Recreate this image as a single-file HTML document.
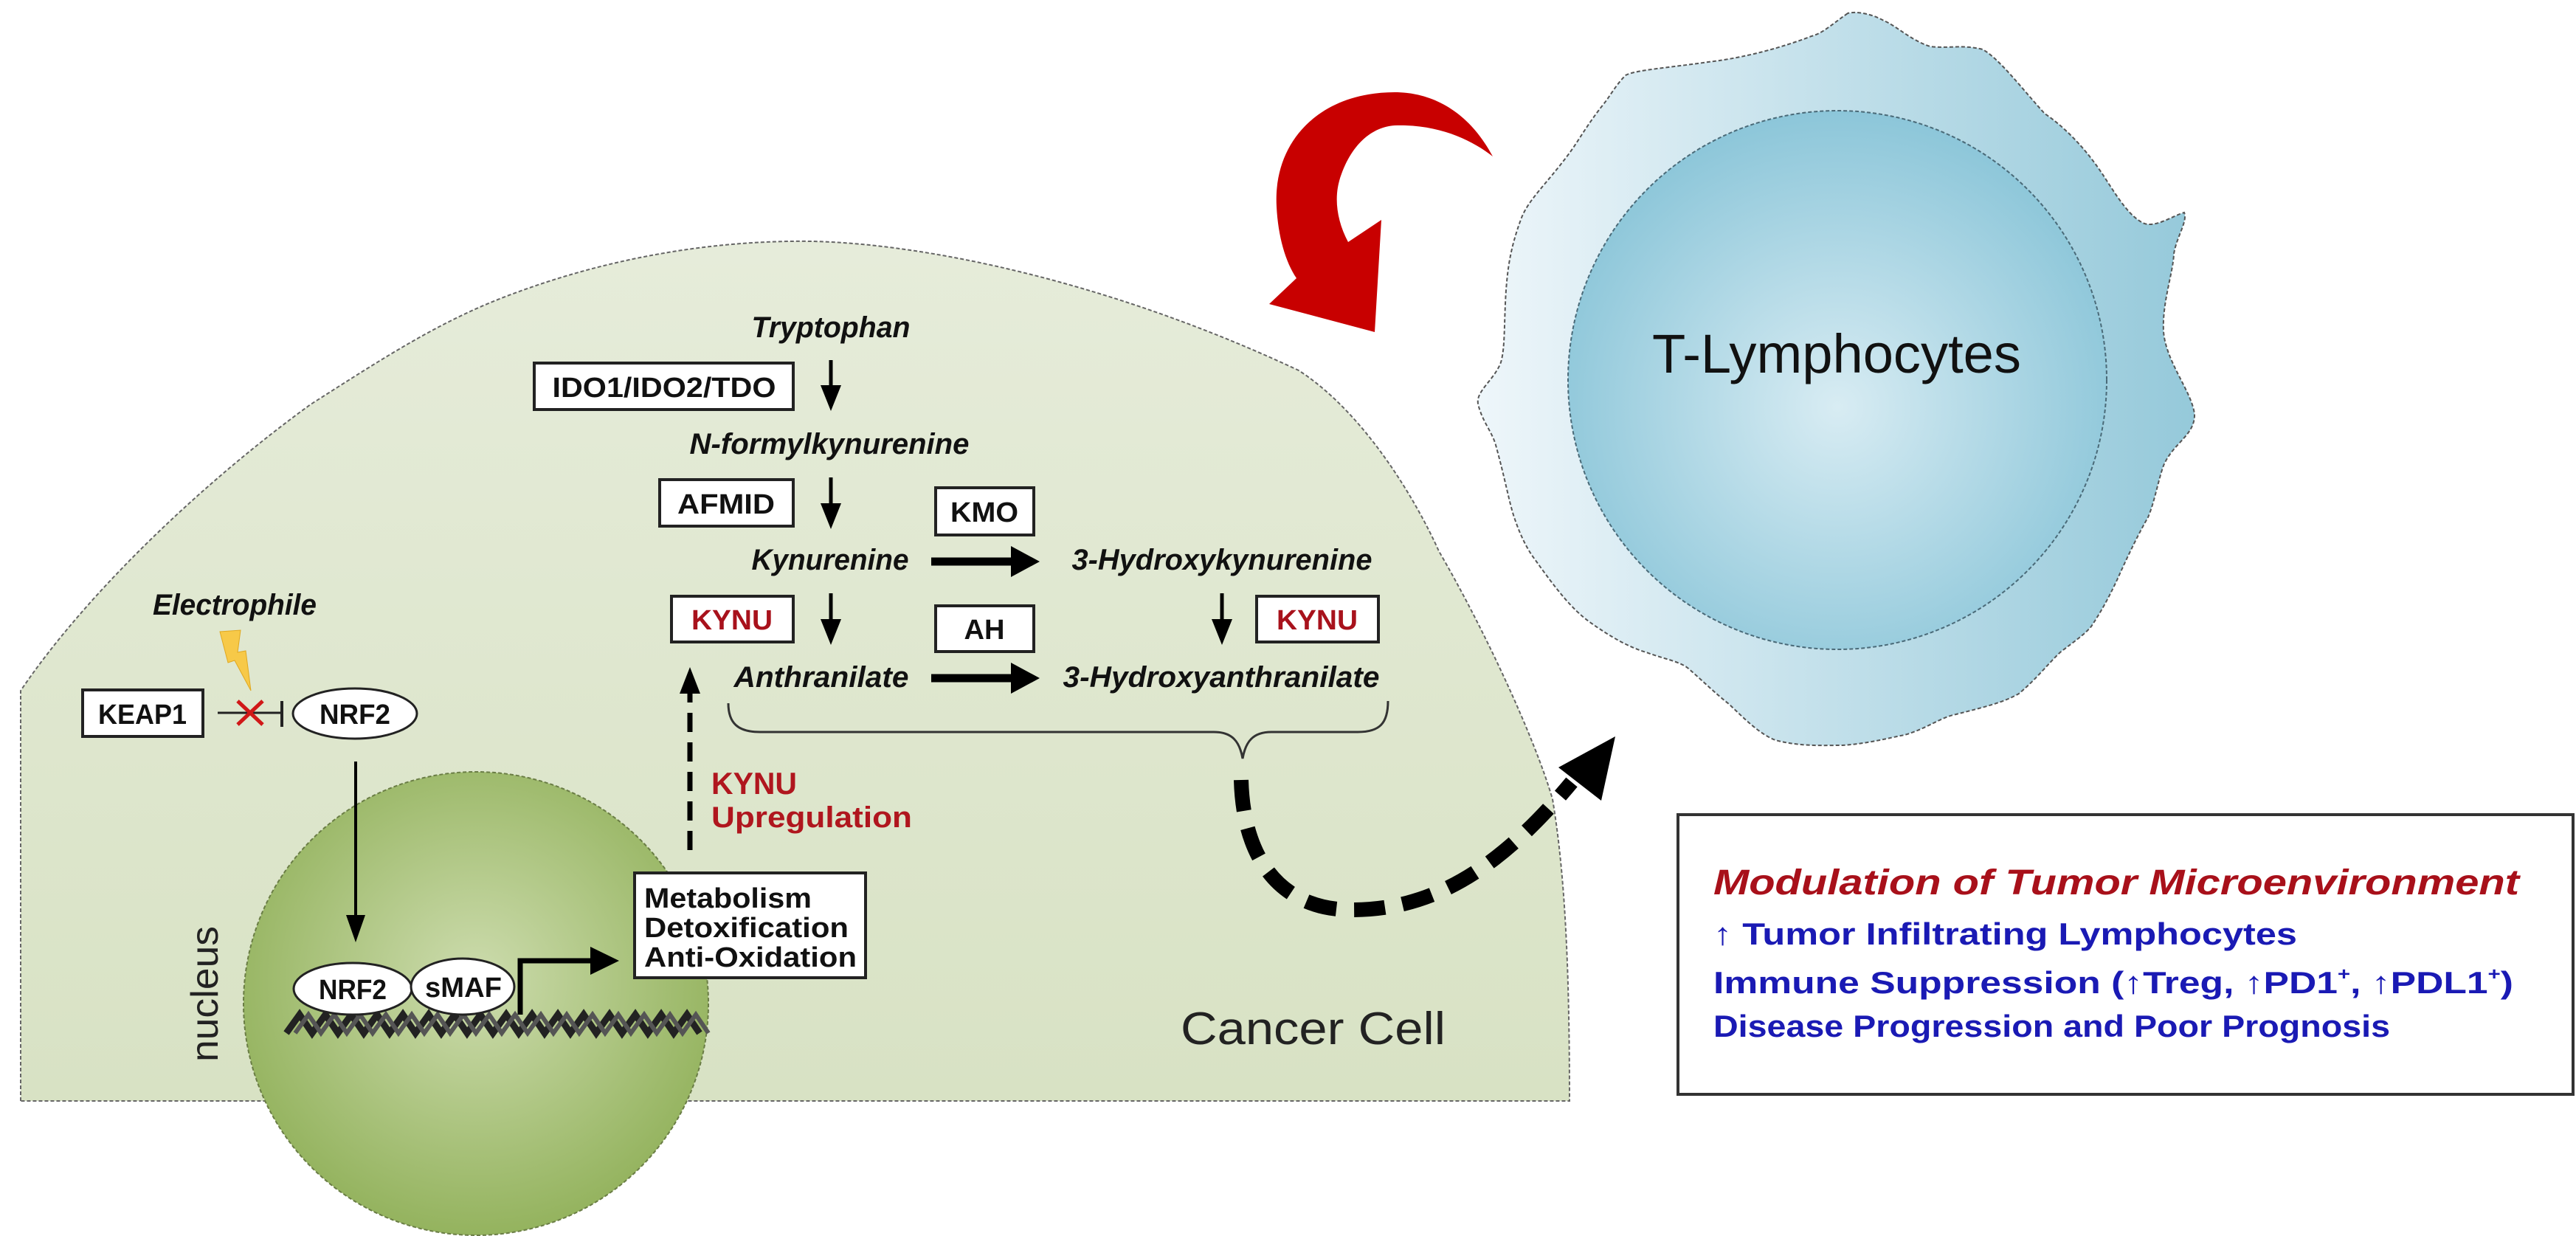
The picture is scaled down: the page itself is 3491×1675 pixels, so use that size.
<!DOCTYPE html>
<html><head><meta charset="utf-8"><style>
html,body{margin:0;padding:0;background:#fff;}
svg{display:block;}
text{font-family:"Liberation Sans",sans-serif;}
.bi{font-weight:bold;font-style:italic;fill:#111;font-size:40px;}
.bx{font-weight:bold;fill:#111;font-size:38px;}
.box{fill:#fff;stroke:#222;stroke-width:4;}
</style></head><body>
<svg width="3491" height="1675" viewBox="0 0 3491 1675" xmlns="http://www.w3.org/2000/svg">
<defs>
<linearGradient id="cellg" x1="0" y1="0" x2="0" y2="1">
<stop offset="0" stop-color="#e6ecda"/><stop offset="1" stop-color="#d8e2c4"/></linearGradient>
<radialGradient id="nucg" cx="0.5" cy="0.45" r="0.55">
<stop offset="0" stop-color="#cddcae"/><stop offset="1" stop-color="#94b35e"/></radialGradient>
<linearGradient id="tout" x1="0" y1="0" x2="1" y2="0">
<stop offset="0" stop-color="#eef6fa"/><stop offset="1" stop-color="#95c9da"/></linearGradient>
<radialGradient id="tin" cx="0.5" cy="0.55" r="0.55">
<stop offset="0" stop-color="#d8ecf3"/><stop offset="1" stop-color="#8cc6d9"/></radialGradient>
</defs>

<path d="M28,1492 L28,936 C120,800 280,650 421,548 C520,485 600,432 701,396 C820,352 960,325 1100,327 C1250,330 1500,380 1760,502 C1850,560 1920,680 1950,747 C2010,850 2080,1000 2104,1083 C2120,1180 2127,1300 2127,1492 Z" fill="url(#cellg)" stroke="#666" stroke-width="2" stroke-dasharray="5 3"/>

<ellipse cx="645" cy="1360" rx="315" ry="314" fill="url(#nucg)" stroke="#6a7d45" stroke-width="2" stroke-dasharray="5 3"/>
<text x="0" y="0" font-size="52" fill="#222" transform="translate(295,1347) rotate(-90)" text-anchor="middle" textLength="184" lengthAdjust="spacingAndGlyphs">nucleus</text>

<path d="M2504,18 C2480,35 2470,45 2455,49 C2400,70 2350,80 2315,84 C2260,92 2215,95 2203,102 C2190,115 2182,130 2174,140 C2150,170 2140,190 2125,210 C2095,250 2072,270 2062,295 C2045,340 2043,370 2041,393 C2038,440 2040,470 2034,491 C2025,515 2000,530 2003,547 C2008,570 2022,585 2027,603 C2040,650 2045,680 2052,701 C2060,725 2070,745 2080,758 C2110,800 2130,825 2153,842 C2185,865 2210,878 2231,884 C2255,893 2275,896 2287,905 C2310,925 2325,940 2343,954 C2365,975 2385,995 2406,1003 C2440,1012 2470,1010 2497,1010 C2530,1008 2560,1000 2581,996 C2610,988 2630,972 2651,968 C2690,958 2715,952 2736,940 C2760,920 2775,900 2792,884 C2810,870 2825,860 2834,849 C2850,825 2860,805 2869,786 C2885,750 2900,720 2911,701 C2920,680 2925,650 2932,631 C2945,600 2975,590 2974,561 C2970,530 2935,490 2932,449 C2930,410 2945,370 2946,344 C2950,320 2965,300 2960,288 C2945,292 2920,310 2904,302 C2880,290 2860,250 2841,224 C2820,195 2795,170 2771,154 C2740,120 2710,80 2687,67 C2660,60 2640,66 2616,63 C2590,55 2570,35 2553,28 C2535,18 2515,15 2504,18 Z" fill="url(#tout)" stroke="#555" stroke-width="2" stroke-dasharray="5 3"/>
<circle cx="2490" cy="515" r="365" fill="url(#tin)" stroke="#4a6a78" stroke-width="2" stroke-dasharray="5 3"/>
<text x="2489" y="505" font-size="74" fill="#111" text-anchor="middle" textLength="500" lengthAdjust="spacingAndGlyphs">T-Lymphocytes</text>

<path d="M2023,212 C1990,150 1940,125 1890,125 C1790,125 1725,190 1730,280 C1732,320 1742,355 1757,377 L1720,412 L1863,450 L1872,298 L1827,328 C1812,300 1808,270 1815,245 C1830,195 1860,172 1890,170 C1950,168 1995,190 2023,212 Z" fill="#c80000"/>

<text class="bi" x="1126" y="457" text-anchor="middle" textLength="215" lengthAdjust="spacingAndGlyphs">Tryptophan</text>
<rect class="box" x="724" y="492" width="351" height="63"/>
<text class="bx" x="900" y="538" text-anchor="middle" textLength="303" lengthAdjust="spacingAndGlyphs">IDO1/IDO2/TDO</text>
<line x1="1126" y1="488" x2="1126" y2="525" stroke="#000" stroke-width="5"/>
<polygon points="1112,522 1140,522 1126,557" fill="#000"/>

<text class="bi" x="1124" y="615" text-anchor="middle" textLength="379" lengthAdjust="spacingAndGlyphs">N-formylkynurenine</text>
<rect class="box" x="894" y="650" width="181" height="63"/>
<text class="bx" x="984" y="696" text-anchor="middle" textLength="132" lengthAdjust="spacingAndGlyphs">AFMID</text>
<line x1="1126" y1="647" x2="1126" y2="685" stroke="#000" stroke-width="5"/>
<polygon points="1112,682 1140,682 1126,717" fill="#000"/>

<rect class="box" x="1268" y="661" width="133" height="64"/>
<text class="bx" x="1334" y="707" text-anchor="middle" textLength="92" lengthAdjust="spacingAndGlyphs">KMO</text>

<text class="bi" x="1125" y="772" text-anchor="middle" textLength="213" lengthAdjust="spacingAndGlyphs">Kynurenine</text>
<line x1="1262" y1="761" x2="1375" y2="761" stroke="#000" stroke-width="11"/>
<polygon points="1370,740 1370,782 1409,761" fill="#000"/>
<text class="bi" x="1656" y="772" text-anchor="middle" textLength="407" lengthAdjust="spacingAndGlyphs">3-Hydroxykynurenine</text>

<rect class="box" x="910" y="808" width="165" height="62"/>
<text class="bx" x="992" y="853" text-anchor="middle" style="fill:#a8121c" textLength="110" lengthAdjust="spacingAndGlyphs">KYNU</text>
<line x1="1126" y1="804" x2="1126" y2="842" stroke="#000" stroke-width="5"/>
<polygon points="1112,839 1140,839 1126,874" fill="#000"/>

<rect class="box" x="1268" y="821" width="133" height="62"/>
<text class="bx" x="1334" y="866" text-anchor="middle" textLength="55" lengthAdjust="spacingAndGlyphs">AH</text>

<line x1="1656" y1="804" x2="1656" y2="842" stroke="#000" stroke-width="5"/>
<polygon points="1642,839 1670,839 1656,874" fill="#000"/>
<rect class="box" x="1703" y="808" width="165" height="62"/>
<text class="bx" x="1785" y="853" text-anchor="middle" style="fill:#a8121c" textLength="110" lengthAdjust="spacingAndGlyphs">KYNU</text>

<text class="bi" x="1113" y="931" text-anchor="middle" textLength="237" lengthAdjust="spacingAndGlyphs">Anthranilate</text>
<line x1="1262" y1="919" x2="1375" y2="919" stroke="#000" stroke-width="11"/>
<polygon points="1370,898 1370,940 1409,919" fill="#000"/>
<text class="bi" x="1655" y="931" text-anchor="middle" textLength="429" lengthAdjust="spacingAndGlyphs">3-Hydroxyanthranilate</text>

<path d="M987,953 C987,980 1000,992 1030,992 L1645,992 C1670,992 1680,1005 1684,1028 C1688,1005 1698,992 1723,992 L1840,992 C1870,992 1881,980 1881,950" fill="none" stroke="#333" stroke-width="3"/>

<path d="M1682,1057 C1685,1170 1740,1233 1832,1233 C1940,1233 2030,1180 2130,1060" fill="none" stroke="#000" stroke-width="20" stroke-dasharray="42 24"/>
<polygon points="2189,998 2170,1085 2112,1040" fill="#000"/>

<text x="1600" y="1415" font-size="62" fill="#222" textLength="359" lengthAdjust="spacingAndGlyphs">Cancer Cell</text>

<line x1="935" y1="1152" x2="935" y2="935" stroke="#000" stroke-width="7" stroke-dasharray="26 14"/>
<polygon points="921,940 949,940 935,904" fill="#000"/>
<text x="964" y="1076" font-size="42" font-weight="bold" fill="#b0161e" textLength="116" lengthAdjust="spacingAndGlyphs">KYNU</text>
<text x="964" y="1121" font-size="40" font-weight="bold" fill="#b0161e" textLength="272" lengthAdjust="spacingAndGlyphs">Upregulation</text>

<text class="bi" x="207" y="833" textLength="222" lengthAdjust="spacingAndGlyphs">Electrophile</text>
<polygon points="298,856 326,854 322,884 333,882 340,936 318,895 309,898" fill="#f7c948" stroke="#e0a820" stroke-width="1"/>
<rect class="box" x="112" y="935" width="163" height="63"/>
<text class="bx" x="193" y="981" text-anchor="middle" textLength="120" lengthAdjust="spacingAndGlyphs">KEAP1</text>
<line x1="295" y1="966" x2="382" y2="966" stroke="#222" stroke-width="3"/>
<line x1="382" y1="950" x2="382" y2="985" stroke="#222" stroke-width="4"/>
<path d="M322,950 L356,982 M356,950 L322,982" stroke="#d01818" stroke-width="5"/>
<ellipse cx="481" cy="967" rx="84" ry="34" fill="#fff" stroke="#222" stroke-width="3"/>
<text class="bx" x="481" y="981" text-anchor="middle" textLength="96" lengthAdjust="spacingAndGlyphs">NRF2</text>
<line x1="482" y1="1032" x2="482" y2="1245" stroke="#000" stroke-width="4"/>
<polygon points="469,1240 495,1240 482,1277" fill="#000"/>

<path d="M388,1400 l18,-25 l17,25 l18,-25 l17,25 l18,-25 l17,25 l18,-25 l17,25 l18,-25 l17,25 l18,-25 l17,25 l18,-25 l17,25 l18,-25 l17,25 l18,-25 l17,25 l18,-25 l17,25 l18,-25 l17,25 l18,-25 l17,25 l18,-25 l17,25 l18,-25 l17,25 l18,-25 l17,25 l18,-25 l17,25" fill="none" stroke="#222" stroke-width="9"/>
<path d="M400,1400 l18,-25 l17,25 l18,-25 l17,25 l18,-25 l17,25 l18,-25 l17,25 l18,-25 l17,25 l18,-25 l17,25 l18,-25 l17,25 l18,-25 l17,25 l18,-25 l17,25 l18,-25 l17,25 l18,-25 l17,25 l18,-25 l17,25 l18,-25 l17,25 l18,-25 l17,25 l18,-25 l17,25 l18,-25 l17,25" fill="none" stroke="#555" stroke-width="6"/>

<ellipse cx="478" cy="1340" rx="80" ry="35" fill="#fff" stroke="#222" stroke-width="3"/>
<text class="bx" x="478" y="1354" text-anchor="middle" textLength="92" lengthAdjust="spacingAndGlyphs">NRF2</text>
<ellipse cx="627" cy="1337" rx="70" ry="38" fill="#fff" stroke="#222" stroke-width="3"/>
<text class="bx" x="628" y="1351" text-anchor="middle" textLength="104" lengthAdjust="spacingAndGlyphs">sMAF</text>

<polyline points="705,1375 705,1302 802,1302" fill="none" stroke="#000" stroke-width="7"/>
<polygon points="800,1283 800,1321 839,1302" fill="#000"/>

<rect class="box" x="860" y="1183" width="313" height="142"/>
<text class="bx" x="873" y="1230" textLength="227" lengthAdjust="spacingAndGlyphs">Metabolism</text>
<text class="bx" x="873" y="1270" textLength="277" lengthAdjust="spacingAndGlyphs">Detoxification</text>
<text class="bx" x="873" y="1310" textLength="288" lengthAdjust="spacingAndGlyphs">Anti-Oxidation</text>

<rect x="2274" y="1104" width="1213" height="379" fill="#fff" stroke="#333" stroke-width="4"/>
<text x="2322" y="1212" font-size="48" font-weight="bold" font-style="italic" fill="#a8101a" textLength="1092" lengthAdjust="spacingAndGlyphs">Modulation of Tumor Microenvironment</text>
<text x="2322" y="1280" font-size="42" font-weight="bold" fill="#1a1ab4" textLength="791" lengthAdjust="spacingAndGlyphs">↑ Tumor Infiltrating Lymphocytes</text>
<text x="2322" y="1346" font-size="42" font-weight="bold" fill="#1a1ab4" textLength="1084" lengthAdjust="spacingAndGlyphs">Immune Suppression (↑Treg, ↑PD1<tspan font-size="24" dy="-18">+</tspan><tspan dy="18">, ↑PDL1</tspan><tspan font-size="24" dy="-18">+</tspan><tspan dy="18">)</tspan></text>
<text x="2322" y="1405" font-size="42" font-weight="bold" fill="#1a1ab4" textLength="917" lengthAdjust="spacingAndGlyphs">Disease Progression and Poor Prognosis</text>
</svg>
</body></html>
